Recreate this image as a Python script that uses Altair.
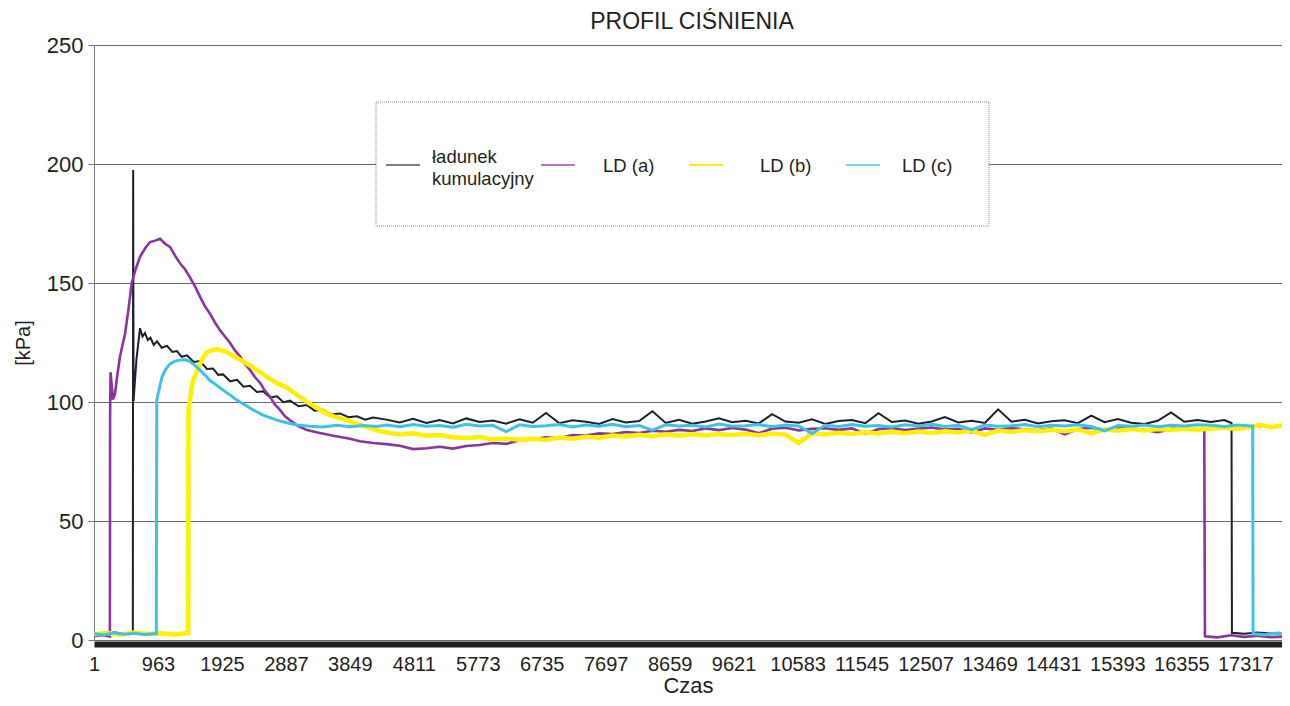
import altair as alt
import pandas as pd

FONT = "Liberation Sans"
INK = "#231f20"

X_TICKS = [1, 963, 1925, 2887, 3849, 4811, 5773, 6735, 7697, 8659, 9621,
           10583, 11545, 12507, 13469, 14431, 15393, 16355, 17317]
Y_TICKS = [0, 50, 100, 150, 200, 250]
X_DOMAIN = [1, 17869]

# common sampling grid for the long steady part
GRID = list(range(4400, 16601, 200))

# ---- ładunek kumulacyjny (black) ----
BLACK_HEAD_X = [1, 150, 300, 450, 585, 590, 596, 640, 693, 730, 768, 810, 850, 900, 949,
                1020, 1099, 1180, 1249, 1320, 1400, 1500, 1595, 1700, 1791, 1870, 1941,
                2050, 2152, 2250, 2347, 2450, 2543, 2650, 2753, 2850, 2949, 3080, 3205,
                3320, 3445, 3570, 3701, 3830, 3957, 4080, 4200]
BLACK_HEAD_Y = [3.0, 2.4, 3.3, 2.6, 3.0, 197.5, 100.5, 118, 131, 127.5, 129, 126, 127, 124, 125.5,
                122.8, 123.6, 121, 121.4, 119, 119.6, 116.8, 117.2, 113.9, 114.1, 111.4, 111.6,
                108.7, 109.3, 106.4, 106.8, 104.2, 104.5, 101.9, 102.4, 99.9, 100.6, 98.2, 98.7,
                96.3, 96.7, 94.8, 95.2, 93.6, 94.0, 92.6, 93.5]
BLACK_GRID_Y = [92.6, 91.4, 92.9, 91.2, 92.4, 91.0, 93.1, 91.6, 92.2, 90.9,
                92.7, 91.3, 95.4, 91.1, 92.3, 91.7, 90.8, 92.8, 91.4, 92.0,
                96.1, 91.2, 92.5, 90.9, 91.8, 93.2, 91.5, 92.1, 91.0, 94.9,
                91.8, 91.3, 92.7, 90.8, 92.0, 92.4, 91.1, 95.3, 91.6, 92.2,
                90.9, 91.8, 93.7, 91.4, 92.1, 91.2, 96.9, 91.7, 92.5, 91.0,
                91.9, 92.3, 91.1, 94.3, 91.5, 92.8, 91.3, 90.8, 92.1, 95.6,
                91.7, 92.4]
BLACK_TAIL_X = [16800, 17000, 17110, 17116, 17300, 17500, 17700, 17990]
BLACK_TAIL_Y = [91.6, 92.4, 91.2, 3.0, 2.6, 3.2, 2.7, 3.0]

# ---- LD (a) (purple) ----
A_HEAD_X = [1, 120, 240, 243, 250, 287, 317, 355, 392, 430, 467, 520, 568,
            630, 693, 768, 843, 920, 994, 1070, 1144, 1220, 1294,
            1370, 1445, 1520, 1595, 1670, 1746, 1820, 1896, 1970, 2046,
            2120, 2197, 2270, 2347, 2420, 2498, 2570, 2648, 2720, 2798,
            2870, 2949, 3080, 3205, 3300, 3400, 3600, 3851, 4000, 4200]
A_HEAD_Y = [1.6, 2.1, 1.5, 94, 112.5, 101, 103.5, 112, 119, 124, 128.5, 139, 150,
            156, 161, 164.5, 167.2, 167.8, 168.6, 166.5, 165.2, 161.5, 158.3,
            155.8, 152.4, 148.6, 144.3, 140.2, 137.1, 133.4, 130.2, 127.5, 124.9,
            121.7, 119.2, 116.0, 113.5, 110.5, 108.1, 104.8, 102.2, 99.0, 96.7,
            94.1, 92.3, 89.8, 88.2, 87.6, 87.0, 85.8, 84.6, 83.5, 82.8]
A_GRID_Y = [82.3, 81.6, 80.2, 80.6, 81.2, 80.4, 81.5, 81.9, 82.8, 82.4,
            83.9, 84.3, 85.2, 84.8, 86.1, 85.9, 86.8, 86.5, 87.4, 87.0,
            87.9, 87.5, 88.3, 87.8,
            88.9, 88.2, 89.1, 88.4, 86.9, 88.8, 89.2, 88.1, 88.7, 89.0,
            88.3, 88.9, 86.6, 88.6, 89.1, 88.2, 88.8, 89.3, 88.4, 88.7,
            87.2, 88.9, 88.3, 89.0, 88.5, 88.1, 88.9, 86.4, 88.6, 89.2,
            88.3, 88.8, 89.0, 88.2, 87.3, 88.7, 89.1, 88.4]
A_TAIL_X = [16700, 16710, 16900, 17100, 17300, 17500, 17700, 17990]
A_TAIL_Y = [88.4, 1.6, 1.1, 2.0, 1.3, 1.8, 1.2, 1.6]

# ---- LD (b) (yellow) ----
B_HEAD_X = [1, 200, 400, 600, 800, 1000, 1200, 1418,
            1422, 1460, 1490, 1540, 1595, 1650, 1700, 1780, 1851, 1930,
            2001, 2080, 2152, 2230, 2302, 2380, 2453, 2530, 2603, 2680,
            2753, 2830, 2904, 2980, 3054, 3130, 3205, 3280, 3355, 3450,
            3551, 3680, 3806, 3950, 4107, 4250]
B_HEAD_Y = [2.4, 2.9, 2.2, 3.1, 2.5, 2.8, 2.3, 2.9,
            96.5, 104, 109, 112.5, 116, 118.8, 121, 121.8, 122.2, 121.6,
            121, 119.6, 118.5, 117.3, 116, 114.8, 113.4, 112, 110.5, 109.2,
            108, 107, 106, 104.5, 103, 101.5, 100, 98.8, 97.5, 96,
            94.5, 93.3, 92.4, 90.9, 89.5, 88.2]
B_GRID_Y = [87.2, 86.4, 86.9, 85.8, 86.1, 85.2, 84.9, 85.3, 84.3, 84.7,
            84.1, 84.6, 84.0, 85.1, 84.6, 85.4, 85.0, 85.9, 85.5, 86.2,
            85.6, 86.4, 85.8, 86.5, 85.9, 86.6, 86.1, 86.7, 86.0, 86.8,
            86.3, 82.8, 86.9, 86.4, 87.1, 86.6, 87.3, 86.8, 87.5, 86.9,
            87.6, 87.0, 87.7, 87.2, 87.9, 86.2, 88.0, 87.4, 88.2, 87.6,
            88.3, 87.7, 88.4, 86.8, 88.5, 87.9, 88.6, 88.0, 88.7, 88.2,
            88.8, 88.3]
B_TAIL_X = [16800, 17000, 17200, 17400, 17550, 17700, 17850, 17940, 17946, 17990]
B_TAIL_Y = [88.9, 89.2, 88.7, 89.6, 90.3, 89.4, 90.1, 89.5, 1.0, 1.0]

# ---- LD (c) (cyan) ----
C_HEAD_X = [1, 150, 300, 450, 600, 750, 938,
            945, 990, 1024, 1080, 1144, 1220, 1294, 1370, 1445, 1520,
            1595, 1670, 1746, 1820, 1896, 1970, 2046, 2120, 2197, 2270,
            2347, 2440, 2543, 2650, 2753, 2900, 3054, 3250, 3445, 3650,
            3850, 4050, 4250]
C_HEAD_Y = [2.6, 2.1, 3.0, 2.4, 2.8, 2.3, 2.7,
            101, 106.5, 110.5, 113.8, 116, 117.2, 117.6, 117.8, 117, 115.4,
            113.4, 111.3, 109, 107.6, 106, 104.4, 103, 101.4, 100, 98.8,
            97.5, 96, 94.5, 93.4, 92.4, 91.3, 90.3, 89.8, 89.5, 90.2,
            89.6, 90.1, 89.7]
C_GRID_Y = [90.3, 89.6, 90.5, 89.8, 90.1, 89.4, 90.6, 89.9, 90.2, 87.6,
            90.4, 89.7, 90.0, 90.5, 89.5, 90.3, 89.8, 90.6, 89.6, 90.1,
            88.2, 90.4, 89.9, 90.2, 89.5, 90.7, 89.8, 90.0, 90.5, 89.6,
            90.3, 89.9, 86.8, 90.2, 89.7, 90.5, 89.8, 90.1, 89.5, 90.4,
            89.9, 90.6, 89.7, 90.2, 88.4, 90.3, 89.8, 90.0, 90.5, 89.6,
            90.2, 89.9, 90.4, 89.7, 87.9, 90.1, 89.8, 90.3, 89.6, 90.2,
            89.9, 90.4]
C_TAIL_X = [16800, 17000, 17200, 17428, 17434, 17600, 17800, 17990]
C_TAIL_Y = [90.2, 89.7, 90.3, 89.9, 2.6, 2.2, 2.9, 2.4]


def frame(hx, hy, gy, tx, ty):
    xs = list(hx) + list(GRID) + list(tx)
    ys = list(hy) + list(gy) + list(ty)
    assert len(xs) == len(ys), (len(xs), len(ys))
    return pd.DataFrame({"t": xs, "p": ys})


x_axis = alt.Axis(values=X_TICKS, format="d", labelFlush=False, labelOverlap=False,
                  ticks=False, grid=False, domainColor=INK, domainWidth=6, offset=4,
                  labelFont=FONT, labelFontSize=20, labelPadding=10, labelColor=INK,
                  titleFont=FONT, titleFontSize=22, titleFontWeight="normal",
                  titleColor=INK, titlePadding=1)
y_axis = alt.Axis(values=Y_TICKS, format="d", grid=True, gridColor="#6a6a6a", gridWidth=1,
                  domainColor="#7a7a7a", tickColor="#7a7a7a", tickSize=6,
                  labelFont=FONT, labelFontSize=22, labelPadding=5, labelColor=INK,
                  titleFont=FONT, titleFontSize=20, titleFontWeight="normal",
                  titleColor=INK, titlePadding=13)

x_enc = alt.X("t:Q", scale=alt.Scale(domain=X_DOMAIN, nice=False, zero=False),
              axis=x_axis, title="Czas")
y_enc = alt.Y("p:Q", scale=alt.Scale(domain=[0, 250], nice=False), axis=y_axis, title="[kPa]")


def line(df, color, width):
    return alt.Chart(df).mark_line(color=color, strokeWidth=width, clip=True).encode(
        x=x_enc, y=y_enc)


black = line(frame(BLACK_HEAD_X, BLACK_HEAD_Y, BLACK_GRID_Y, BLACK_TAIL_X, BLACK_TAIL_Y),
             "#1e1e2c", 2)
lda = line(frame(A_HEAD_X, A_HEAD_Y, A_GRID_Y, A_TAIL_X, A_TAIL_Y), "#86379a", 2.6)
ldb = line(frame(B_HEAD_X, B_HEAD_Y, B_GRID_Y, B_TAIL_X, B_TAIL_Y), "#fff000", 4.5)
ldc = line(frame(C_HEAD_X, C_HEAD_Y, C_GRID_Y, C_TAIL_X, C_TAIL_Y), "#40c0ea", 3)

# ---- legend (drawn inside the plot, as in the original) ----
one = pd.DataFrame({"k": [0]})
legend_box = alt.Chart(one).mark_rect(fill="white", stroke="#8a8a8a", strokeWidth=1,
                                      strokeDash=[1, 1]).encode(
    x=alt.value(282), x2=alt.value(895), y=alt.value(57), y2=alt.value(181))

LEGEND_NAMES = ["ładunek", "kumulacyjny", "LD (a)", "LD (b)", "LD (c)"]
LEGEND_SYMBOL_COLORS = ["#808080", "#b47ab8", "#f7ec1a", "#7dd4f0"]


def sym(x0, color):
    return alt.Chart(one).mark_rule(color=color, strokeWidth=2.2).encode(
        x=alt.value(x0), x2=alt.value(x0 + 34), y=alt.value(120))


def txt(label, x0, y0):
    return alt.Chart(one).mark_text(text=label, align="left", baseline="middle",
                                    font=FONT, fontSize=18.5, color=INK).encode(
        x=alt.value(x0), y=alt.value(y0))


legend_layers = [
    legend_box,
    sym(292, LEGEND_SYMBOL_COLORS[0]), txt(LEGEND_NAMES[0], 338, 112), txt(LEGEND_NAMES[1], 338, 134),
    sym(447, LEGEND_SYMBOL_COLORS[1]), txt(LEGEND_NAMES[2], 509, 121),
    sym(595, LEGEND_SYMBOL_COLORS[2]), txt(LEGEND_NAMES[3], 666, 121),
    sym(752, LEGEND_SYMBOL_COLORS[3]), txt(LEGEND_NAMES[4], 808, 121),
]

chart = alt.layer(black, lda, ldb, ldc, *legend_layers).properties(
    width=1188, height=595,
    padding={"left": 86, "top": 37, "right": 0, "bottom": 58},
    autosize=alt.AutoSizeParams(type="none"),
    title=alt.Title("PROFIL CIŚNIENIA", font=FONT, fontSize=23, fontWeight="normal",
                    color=INK, anchor="middle", offset=0, dx=4),
).configure_view(stroke=None).configure(background="white")

chart.save("out.html", embed_options={"renderer": "svg", "actions": False})
